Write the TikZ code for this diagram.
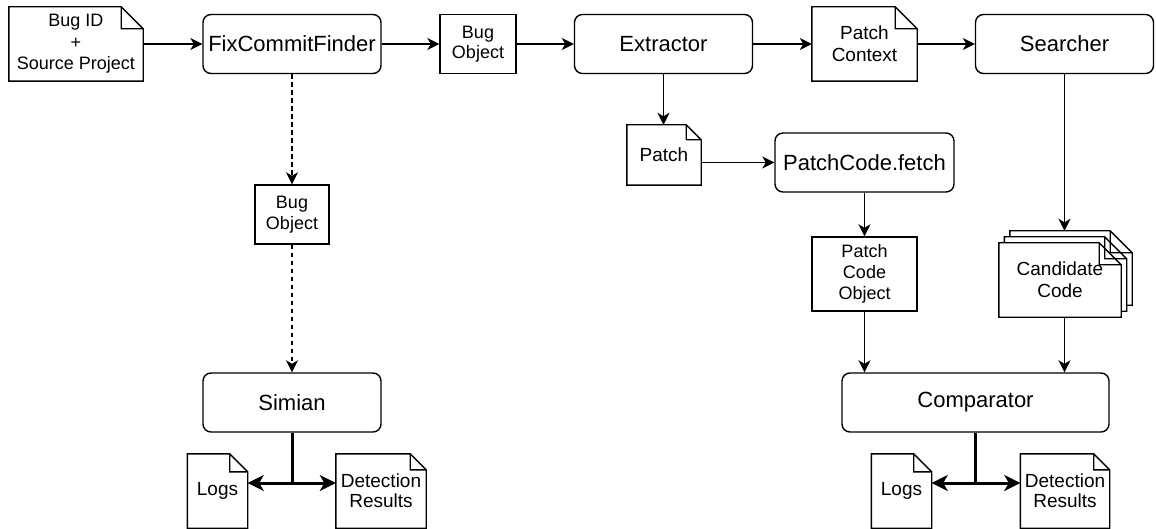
\documentclass[tikz,border=0pt]{standalone}
\usepackage{fontspec}
\setmainfont{Liberation Sans}
\usetikzlibrary{arrows.meta, positioning, backgrounds}

\tikzset{
    proc/.style={draw, rounded corners=8pt, line width=1.4pt, minimum width=178pt, minimum height=59pt, inner sep=0pt, font=\fontsize{22}{26}\selectfont},
    objbox/.style={draw, line width=1.4pt, inner sep=0pt, align=center, font=\fontsize{18}{20.5}\selectfont},
    docbox/.style={inner sep=0pt, align=center, font=\fontsize{19}{22}\selectfont},
    flow/.style={-{Stealth[length=12pt, width=12pt, inset=3.5pt]}, line width=1.4pt},
    flowdash/.style={flow, dash pattern=on 4.5pt off 3.5pt},
    result/.style={-{Stealth[length=16pt, width=16pt, inset=4.5pt]}, line width=3pt},
}

\begin{document}
\begin{tikzpicture}[x=1pt, y=-1pt]
    \useasboundingbox (0,0) rectangle (1156,529);
    % top row
    \node[docbox, minimum width=134pt, minimum height=74pt, font=\fontsize{18}{21.5}\selectfont] (bugid) at (76,44) {Bug ID\\+\\Source Project};
    \node[proc] (finder) at (292,44) {FixCommitFinder};
    \node[objbox, minimum width=76pt, minimum height=59pt] (bugobj) at (478,44) {Bug\\Object};
    \node[proc] (extractor) at (663.5,44) {Extractor};
    \node[docbox, minimum width=105pt, minimum height=74pt] (context) at (864.5,44) {Patch\\Context};
    \node[proc] (searcher) at (1064.5,44) {Searcher};
    % middle
    \node[docbox, minimum width=74pt, minimum height=60pt] (patch) at (664,155) {Patch};
    \node[proc, minimum width=179pt] (fetch) at (864.5,162.5) {PatchCode.fetch};
    \node[objbox, minimum width=105pt, minimum height=74pt, font=\fontsize{18}{21}\selectfont] (codeobj) at (864.5,274) {Patch\\Code\\Object};
    \node[docbox, minimum width=122pt, minimum height=74pt] (cand) at (1060,280) {Candidate\\Code};
    \node[objbox, minimum width=74pt, minimum height=59pt] (bugobjB) at (292,214.5) {Bug\\Object};
    % bottom
    \node[proc] (simian) at (292,402.5) {Simian};
    \node[proc, minimum width=267pt] (comparator) at (975.5,402.5) {Comparator};
    \node[docbox, minimum width=60pt, minimum height=74pt] (logsA) at (217.5,491) {Logs};
    \node[docbox, minimum width=90pt, minimum height=74pt, font=\fontsize{19}{20}\selectfont] (resultsA) at (381,491) {Detection\\Results};
    \node[docbox, minimum width=60pt, minimum height=74pt] (logsB) at (901.5,491) {Logs};
    \node[docbox, minimum width=89pt, minimum height=74pt, font=\fontsize{19}{20}\selectfont] (resultsB) at (1065,491) {Detection\\Results};

    % folded documents
    \foreach \d/\f in {bugid/22, context/22, patch/15, logsA/18, resultsA/16, logsB/18, resultsB/16}
        \draw[line width=1.4pt] (\d.south west) -- (\d.north west) -- ([xshift=-\f pt]\d.north east) -- ([yshift=-\f pt]\d.north east) -- (\d.south east) -- cycle
            ([xshift=-\f pt]\d.north east) |- ([yshift=-\f pt]\d.north east);
    \begin{scope}[on background layer]
        \foreach \dx/\dy in {11/12, 5.5/6, 0/0} {
            \coordinate (sw) at ([xshift=\dx pt, yshift=\dy pt]cand.south west);
            \coordinate (ne) at ([xshift=\dx pt, yshift=\dy pt]cand.north east);
            \draw[line width=1.4pt, fill=white] (sw) -- (sw |- ne) -- ([xshift=-22pt]ne) -- ([yshift=-22pt]ne) -- (ne |- sw) -- cycle
                ([xshift=-22pt]ne) |- ([yshift=-22pt]ne);
        }
    \end{scope}
    \path (cand.north) ++(0,-12) coordinate (stacktop);

    % connectors
    \draw[flow] (bugid) -- (finder);
    \draw[flow] (finder) -- (bugobj);
    \draw[flow] (bugobj) -- (extractor);
    \draw[flow] (extractor) -- (context);
    \draw[flow] (context) -- (searcher);
    \draw[flow] (extractor.south) -- (extractor.south |- patch.north);
    \draw[flow] (patch.east |- fetch) -- (fetch);
    \draw[flow] (fetch) -- (codeobj);
    \draw[flow] (searcher) -- (searcher |- stacktop);
    \draw[flow] (cand.south -| searcher) -- (comparator.north -| searcher);
    \draw[flow] (codeobj) -- (codeobj |- comparator.north);
    \draw[flowdash] (finder) -- (bugobjB);
    \draw[flowdash] (bugobjB) -- (simian);

    % outputs
    \coordinate (splitA) at (292,483);
    \coordinate (splitB) at (975.5,483);
    \draw[line width=3pt] (simian) -- (splitA);
    \draw[result] (splitA) -- (splitA -| logsA.east);
    \draw[result] (splitA) -- (splitA -| resultsA.west);
    \draw[line width=3pt] (comparator) -- (splitB);
    \draw[result] (splitB) -- (splitB -| logsB.east);
    \draw[result] (splitB) -- (splitB -| resultsB.west);
\end{tikzpicture}
\end{document}
